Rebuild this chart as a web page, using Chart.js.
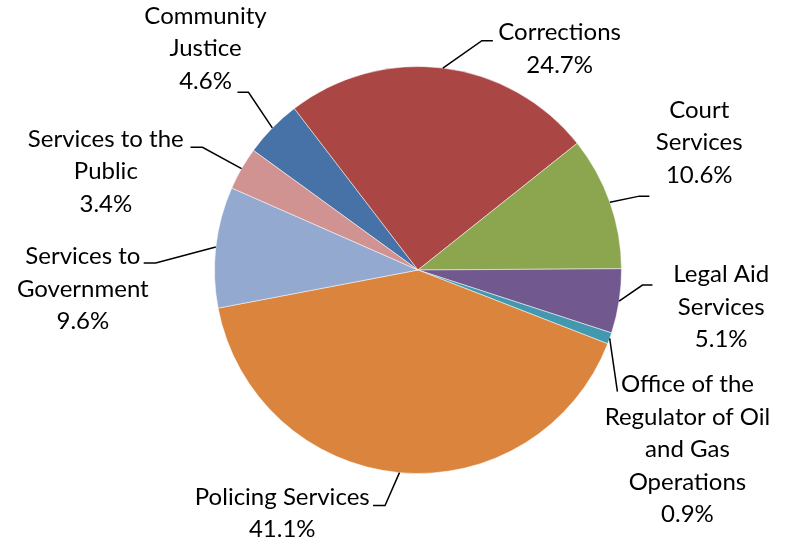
<!DOCTYPE html>
<html>
<head>
<meta charset="utf-8">
<script src="https://cdn.jsdelivr.net/npm/chart.js@4/dist/chart.umd.min.js"></script>
<style>
  html, body { margin: 0; padding: 0; background: #fff; }
</style>
</head>
<body>
<canvas id="pie" width="793" height="546"></canvas>
<script>
// data (percent of total)
var categories = [
  'Community\nJustice',
  'Corrections',
  'Court\nServices',
  'Legal Aid\nServices',
  'Office of the\nRegulator of Oil\nand Gas\nOperations',
  'Policing Services',
  'Services to\nGovernment',
  'Services to the\nPublic'
];
var shares = [4.6, 24.7, 10.6, 5.1, 0.9, 41.1, 9.6, 3.4];

var sliceColors = ['#4672A7', '#AA4644', '#8BA64F', '#71588F', '#4198AF', '#DB843D', '#93A9CF', '#D09392'];

// label placement, in units of the pie radius from the centre
// pos = centre of the text block, elbow = where the leader bends, hook = short flat bit
var labelPos = [[-1.044, -1.088], [0.696, -1.086], [1.382, -0.627], [1.490, 0.181],
                [1.324, 0.882], [-0.667, 1.196], [-1.647, 0.093], [-1.534, -0.485]];
var elbowPos = [[-0.833, -0.873], [0.314, -1.127], [1.088, -0.363], [1.103, 0.074],
                [0.980, 0.598], [-0.162, 1.157], [-1.289, -0.034], [-1.059, -0.603]];
var hooks = [-11, 11, 10, 10, 0, -12, -12, -12];

var FONT = '24px Lato';
var LINE_H = 32.5;

var leaderLabels = {
  id: 'leaderLabels',
  afterDatasetsDraw: function (chart) {
    var ctx = chart.ctx;
    var arcs = chart.getDatasetMeta(0).data;
    ctx.save();
    arcs.forEach(function (arc, i) {
      var r = arc.outerRadius;
      var mid = (arc.startAngle + arc.endAngle) / 2;
      var ex = arc.x + Math.cos(mid) * r;
      var ey = arc.y + Math.sin(mid) * r;
      var bx = arc.x + elbowPos[i][0] * r;
      var by = arc.y + elbowPos[i][1] * r;

      ctx.strokeStyle = '#000';
      ctx.lineWidth = 1.5;
      ctx.beginPath();
      ctx.moveTo(ex, ey);
      ctx.lineTo(bx, by);
      if (hooks[i]) ctx.lineTo(bx + hooks[i], by);
      ctx.stroke();

      var lines = categories[i].split('\n');
      lines.push(shares[i].toFixed(1) + '%');
      var cx = arc.x + labelPos[i][0] * r;
      var cy = arc.y + labelPos[i][1] * r;
      var top = cy - (lines.length - 1) * LINE_H / 2;
      ctx.fillStyle = '#000';
      ctx.font = FONT;
      ctx.textAlign = 'center';
      ctx.textBaseline = 'middle';
      lines.forEach(function (t, k) {
        ctx.fillText(t, cx, top + k * LINE_H);
      });
    });
    ctx.restore();
  }
};

new Chart(document.getElementById('pie'), {
  type: 'pie',
  data: {
    labels: categories,
    datasets: [{
      data: shares,
      backgroundColor: sliceColors,
      borderColor: 'rgba(255,255,255,0.5)',
      borderWidth: 1
    }]
  },
  options: {
    responsive: false,
    animation: false,
    rotation: -54,
    layout: { padding: { left: 214, right: 171, top: 66, bottom: 72 } },
    plugins: {
      legend: { display: false },
      tooltip: { enabled: false }
    }
  },
  plugins: [leaderLabels]
});
</script>
</body>
</html>
